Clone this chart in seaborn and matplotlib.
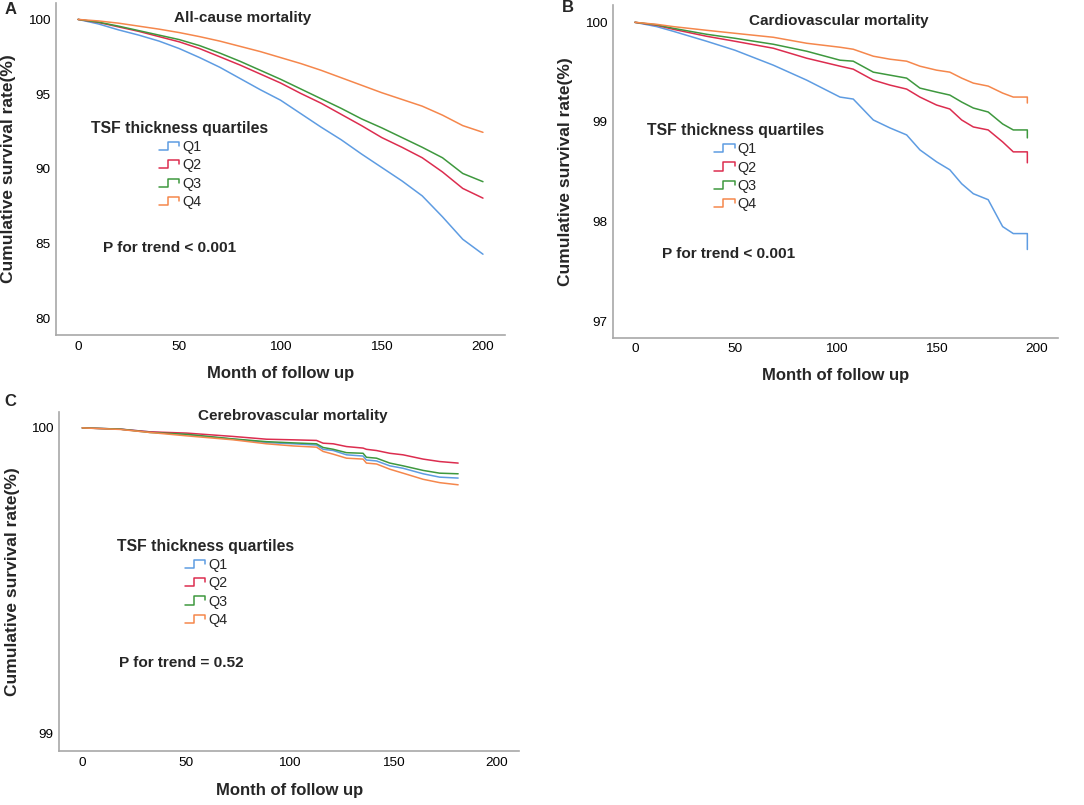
import matplotlib
matplotlib.use("Agg")
import numpy as np
import pandas as pd
import matplotlib.pyplot as plt
import seaborn as sns
from matplotlib.lines import Line2D
from matplotlib.legend_handler import HandlerBase

# ---------------- data ----------------
groups = ["Q1", "Q2", "Q3", "Q4"]
colors = ["#5e9ce2", "#dc2d4f", "#3e983e", "#f5874c"]

# Panel A: all-cause mortality
months_A = [0, 10, 20, 30, 40, 50, 60, 70, 80, 90, 100, 110, 120, 130, 140,
            150, 160, 170, 180, 190, 200]
A_Q1 = [100, 99.7, 99.3, 98.95, 98.55, 98.05, 97.45, 96.8, 96.05, 95.3, 94.6,
        93.7, 92.8, 91.95, 91.0, 90.1, 89.2, 88.2, 86.8, 85.3, 84.3]
A_Q2 = [100, 99.8, 99.5, 99.2, 98.85, 98.5, 98.05, 97.5, 96.95, 96.35, 95.75,
        95.05, 94.4, 93.65, 92.9, 92.1, 91.45, 90.75, 89.8, 88.7, 88.05]
A_Q3 = [100, 99.82, 99.55, 99.25, 98.95, 98.65, 98.25, 97.75, 97.2, 96.6, 96.0,
        95.35, 94.7, 94.05, 93.35, 92.75, 92.1, 91.45, 90.75, 89.7, 89.15]
A_Q4 = [100, 99.9, 99.75, 99.55, 99.35, 99.12, 98.85, 98.55, 98.2, 97.85, 97.45,
        97.05, 96.6, 96.1, 95.6, 95.1, 94.65, 94.2, 93.6, 92.9, 92.45]

# Panel B: cardiovascular mortality
months_B = [0, 10.8, 19.1, 35.7, 49.8, 68.9, 85.5, 102.1, 108.7, 118.7, 127.0,
            135.3, 141.9, 150.2, 156.8, 162.7, 168.5, 175.9, 183.1, 188.4,
            195.4, 195.4]
B_Q1 = [100, 99.957, 99.91, 99.81, 99.72, 99.57, 99.42, 99.25, 99.23, 99.02,
        98.94, 98.87, 98.72, 98.60, 98.52, 98.38, 98.28, 98.22, 97.95, 97.88,
        97.88, 97.72]
B_Q2 = [100, 99.97, 99.93, 99.86, 99.81, 99.74, 99.64, 99.56, 99.53, 99.42,
        99.37, 99.33, 99.25, 99.17, 99.13, 99.02, 98.95, 98.92, 98.80, 98.70,
        98.70, 98.59]
B_Q3 = [100, 99.975, 99.94, 99.88, 99.84, 99.78, 99.71, 99.62, 99.61, 99.50,
        99.47, 99.44, 99.34, 99.30, 99.27, 99.20, 99.14, 99.10, 98.98, 98.92,
        98.92, 98.84]
B_Q4 = [100, 99.98, 99.957, 99.92, 99.89, 99.85, 99.79, 99.75, 99.73, 99.66,
        99.63, 99.61, 99.56, 99.52, 99.50, 99.44, 99.39, 99.36, 99.29, 99.25,
        99.25, 99.19]

# Panel C: cerebrovascular mortality
months_C = [0, 18.2, 32.7, 50.4, 72.9, 89.0, 101.9, 113.1, 116.3, 121.2, 127.6,
            135.6, 137.2, 142.1, 148.5, 154.9, 164.6, 172.6, 181.5]
C_Q1 = [100, 99.996, 99.987, 99.978, 99.963, 99.952, 99.948, 99.944, 99.930,
        99.926, 99.912, 99.908, 99.895, 99.892, 99.876, 99.868, 99.850, 99.839,
        99.836]
C_Q2 = [100, 99.996, 99.987, 99.983, 99.972, 99.963, 99.961, 99.959, 99.950,
        99.948, 99.939, 99.934, 99.930, 99.926, 99.917, 99.912, 99.898, 99.890,
        99.885]
C_Q3 = [100, 99.996, 99.985, 99.979, 99.964, 99.955, 99.951, 99.948, 99.936,
        99.930, 99.919, 99.917, 99.904, 99.901, 99.885, 99.876, 99.861, 99.852,
        99.850]
C_Q4 = [100, 99.995, 99.985, 99.974, 99.961, 99.948, 99.941, 99.937, 99.923,
        99.914, 99.901, 99.898, 99.885, 99.882, 99.865, 99.852, 99.832, 99.821,
        99.814]

x_ticks = [0, 50, 100, 150, 200]
y_ticks_A = [80, 85, 90, 95, 100]
y_ticks_B = [97, 98, 99, 100]
y_ticks_C = [99, 100]


def long_df(months, series):
    rows = []
    for g, vals in zip(groups, series):
        for m, v in zip(months, vals):
            rows.append((m, v, g))
    return pd.DataFrame(rows, columns=["month", "survival", "group"])


class StepHandler(HandlerBase):
    def create_artists(self, legend, orig_handle, xdescent, ydescent, width,
                       height, fontsize, trans):
        x0 = -xdescent
        y0 = -ydescent
        xs = [x0, x0 + 0.45 * width, x0 + 0.45 * width, x0 + width, x0 + width]
        ys = [y0 + 0.1 * height, y0 + 0.1 * height, y0 + 0.9 * height,
              y0 + 0.9 * height, y0 + 0.5 * height]
        ln = Line2D(xs, ys, color=orig_handle.get_color(), lw=1.1)
        ln.set_transform(trans)
        return [ln]


sns.set_style("white")
plt.rcParams["font.family"] = ["Liberation Sans", "DejaVu Sans"]

fig = plt.figure(figsize=(10.84, 8.05), dpi=100)
axA = fig.add_axes([0.0517, 0.5839, 0.4142, 0.4124])
axB = fig.add_axes([0.5652, 0.5805, 0.4105, 0.4133])
axC = fig.add_axes([0.0547, 0.0671, 0.4241, 0.4215])

palette = dict(zip(groups, colors))

panels = [
    (axA, long_df(months_A, [A_Q1, A_Q2, A_Q3, A_Q4]), (-10.9, 210.9), (78.9, 101.1),
     y_ticks_A, "All-cause mortality", (0.415, 0.956), (0.276, 0.512),
     "P for trend < 0.001", (0.105, 0.262), -0.089, -0.093),
    (axB, long_df(months_B, [B_Q1, B_Q2, B_Q3, B_Q4]), (-11.1, 210.5), (96.835, 100.174),
     y_ticks_B, "Cardiovascular mortality", (0.5085, 0.953), (0.276, 0.513),
     "P for trend < 0.001", (0.111, 0.2516), -0.0885, -0.091),
    (axC, long_df(months_C, [C_Q1, C_Q2, C_Q3, C_Q4]), (-11.1, 210.9), (98.944, 100.053),
     y_ticks_C, "Cerebrovascular mortality", (0.508, 0.988), (0.319, 0.496),
     "P for trend = 0.52", (0.130, 0.259), -0.0855, -0.094),
]

for (ax, df, xl, yl, yt, title, tpos, lpos, ptxt, ppos, ylx, xly) in panels:
    sns.lineplot(data=df, x="month", y="survival", hue="group", palette=palette,
                 estimator=None, sort=False, legend=False, lw=1.1, ax=ax)
    ax.set_xlim(*xl)
    ax.set_ylim(*yl)
    ax.set_xticks(x_ticks)
    ax.set_yticks(yt)
    for s in ["top", "right"]:
        ax.spines[s].set_visible(False)
    for s in ["left", "bottom"]:
        ax.spines[s].set_color("#a8a8a8")
        ax.spines[s].set_linewidth(1.2)
    ax.tick_params(direction="in", length=5, width=1, color="#a8a8a8",
                   labelsize=9.7, labelcolor="black", pad=4)
    ax.set_xlabel("Month of follow up", fontsize=12, fontweight="bold")
    ax.set_ylabel("Cumulative survival rate(%)", fontsize=12.5, fontweight="bold")
    ax.xaxis.set_label_coords(0.5, xly)
    ax.yaxis.set_label_coords(ylx, 0.5)
    ax.text(tpos[0], tpos[1], title, transform=ax.transAxes, ha="center",
            va="center", fontsize=11, fontweight="bold")
    ax.text(ppos[0], ppos[1], ptxt, transform=ax.transAxes, ha="left",
            va="center", fontsize=11.1, fontweight="bold")
    handles = [Line2D([], [], color=c) for c in colors]
    leg = ax.legend(handles, groups, handler_map={Line2D: StepHandler()},
                    title="TSF thickness quartiles",
                    title_fontproperties={"weight": "bold", "size": 11.3},
                    fontsize=10.4, frameon=False, loc="center",
                    bbox_to_anchor=lpos, handlelength=1.4, handletextpad=0.2,
                    labelspacing=0.3, borderpad=0)

fig.text(11 / 1084, 1 - 10 / 805, "A", ha="center", va="center",
         fontsize=12, fontweight="bold")
fig.text(568 / 1084, 1 - 8 / 805, "B", ha="center", va="center",
         fontsize=12, fontweight="bold")
fig.text(10 / 1084, 1 - 401 / 805, "C", ha="center", va="center",
         fontsize=12, fontweight="bold")

fig.savefig("out.png", dpi=100)
